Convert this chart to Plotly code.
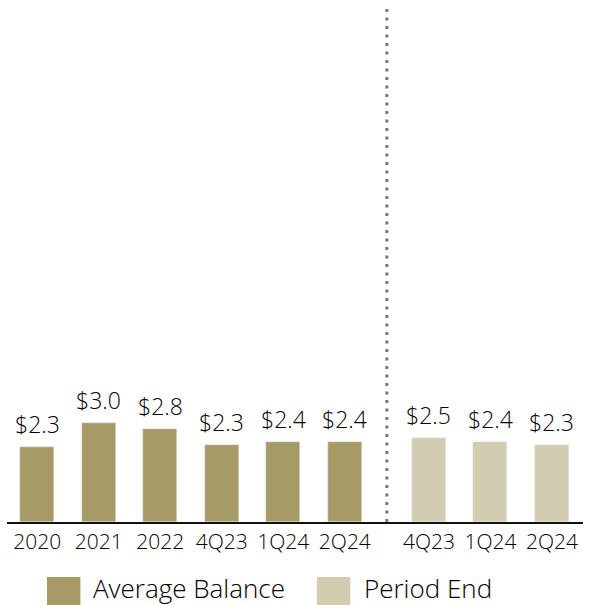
import plotly.graph_objects as go

# Deposit balances ($B)
avg_periods = ["2020", "2021", "2022", "4Q23", "1Q24", "2Q24"]
avg_values = [2.28, 3.0, 2.82, 2.34, 2.42, 2.42]
end_periods = ["4Q23", "1Q24", "2Q24"]
end_values = [2.54, 2.44, 2.33]

AVG_COLOR = "#A69A67"
END_COLOR = "#D2CCB1"
TEXT_COLOR = "#000000"
FONT = "'Open Sans', sans-serif"
WEIGHT = 300

# Numeric slots: the period-end group sits after a wider gap
GAP = 1.366
avg_x = list(range(len(avg_periods)))
end_x = [len(avg_periods) - 1 + GAP + i for i in range(len(end_periods))]
divider_x = (avg_x[-1] + end_x[0]) / 2

fig = go.Figure()
fig.add_trace(go.Bar(x=avg_x, y=avg_values, marker_color=AVG_COLOR,
                     width=0.553, name="Average Balance", showlegend=False))
fig.add_trace(go.Bar(x=end_x, y=end_values, marker_color=END_COLOR,
                     width=0.553, name="Period End", showlegend=False))

# Value labels above each bar
for xs, ys in ((avg_x, avg_values), (end_x, end_values)):
    for x, y in zip(xs, ys):
        fig.add_annotation(x=x, y=y, text=f"${y:.1f}", showarrow=False,
                           yanchor="bottom", yshift=5,
                           font=dict(size=23, color=TEXT_COLOR, family=FONT, weight=WEIGHT))

# Dotted divider between the two groups
fig.add_shape(type="line", xref="x", yref="paper", x0=divider_x, x1=divider_x,
              y0=0, y1=1, line=dict(color="#7A7A7A", width=3, dash="3px,5.5px"))

# Legend drawn with large swatches
legend_items = [("Average Balance", AVG_COLOR, 0.0694, 0.1458),
                ("Period End", END_COLOR, 0.538, 0.616)]
for label, color, sx, tx in legend_items:
    fig.add_shape(type="rect", xref="paper", yref="paper",
                  x0=sx, x1=sx + 0.058, y0=-0.1064, y1=-0.172,
                  fillcolor=color, line=dict(width=0))
    fig.add_annotation(xref="paper", yref="paper", x=tx, y=-0.1277,
                       text=label, showarrow=False, xanchor="left", yanchor="middle",
                       font=dict(size=26, color=TEXT_COLOR, family=FONT, weight=WEIGHT))

fig.update_layout(
    width=593, height=605,
    margin=dict(l=7, r=10, t=5, b=83),
    plot_bgcolor="white", paper_bgcolor="white",
    bargap=0,
    font=dict(family=FONT, color=TEXT_COLOR, weight=WEIGHT),
)
fig.update_xaxes(
    range=[-0.49, 8.87],
    tickvals=avg_x + end_x, ticktext=avg_periods + end_periods,
    tickfont=dict(size=21, color=TEXT_COLOR, family=FONT, weight=WEIGHT),
    showline=True, linecolor="#111111", linewidth=2,
    showgrid=False, zeroline=False, ticks="",
)
fig.update_yaxes(range=[0, 15.71], visible=False, showgrid=False, zeroline=False)

fig.write_html("out.html")
